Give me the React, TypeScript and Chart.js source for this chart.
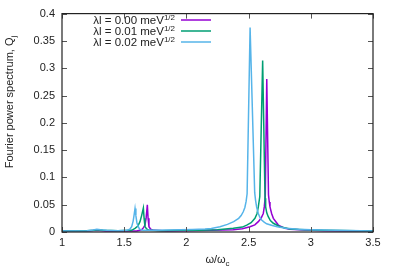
import { useEffect, useRef } from "react";
import { Chart, registerables } from "chart.js";

Chart.register(...registerables);

const xTicks = [1, 1.5, 2, 2.5, 3, 3.5];
const yTicks = [0, 0.05, 0.1, 0.15, 0.2, 0.25, 0.3, 0.35, 0.4];
const seriesValues = ["0.00", "0.01", "0.02"];
const seriesColors = ["#9400d3", "#009e73", "#56b4e9"];

// lambda l = 0.00
const purplePoints: [number, number][] = [
  [1.0, 0.0015], [1.2, 0.002], [1.28, 0.003], [1.35, 0.002], [1.5, 0.002], [1.6, 0.002],
  [1.64, 0.004], [1.655, 0.008], [1.667, 0.0127], [1.676, 0.025], [1.686, 0.05], [1.692, 0.025],
  [1.699, 0.0097], [1.713, 0.005], [1.74, 0.003], [1.85, 0.002], [2.0, 0.0025], [2.2, 0.003],
  [2.377, 0.004], [2.45, 0.006], [2.511, 0.0097], [2.55, 0.013], [2.578, 0.019], [2.6, 0.025],
  [2.618, 0.034], [2.626, 0.046], [2.634, 0.065],
  [2.646, 0.28], [2.66, 0.068], [2.666, 0.055], [2.672, 0.046],
  [2.685, 0.034], [2.699, 0.025], [2.739, 0.0127], [2.793, 0.0067], [2.833, 0.005], [2.95, 0.0035],
  [3.1, 0.0025], [3.5, 0.0015],
];

// lambda l = 0.01
const greenPoints: [number, number][] = [
  [1.0, 0.002], [1.1, 0.002], [1.2, 0.0025], [1.26, 0.003], [1.29, 0.004], [1.33, 0.003],
  [1.45, 0.0025], [1.56, 0.003], [1.587, 0.0067], [1.61, 0.011], [1.627, 0.019], [1.64, 0.03],
  [1.654, 0.044], [1.66, 0.025], [1.667, 0.0097], [1.681, 0.0055], [1.7, 0.003], [1.8, 0.0025],
  [1.95, 0.003], [2.1, 0.003], [2.25, 0.004], [2.377, 0.0067], [2.45, 0.009], [2.485, 0.0127],
  [2.52, 0.017], [2.551, 0.025], [2.568, 0.034], [2.578, 0.046], [2.59, 0.065],
  [2.613, 0.314], [2.632, 0.062],
  [2.637, 0.046], [2.646, 0.035], [2.658, 0.028], [2.675, 0.021], [2.699, 0.016],
  [2.752, 0.0097], [2.833, 0.0055], [2.95, 0.004], [3.1, 0.003], [3.5, 0.002],
];

// lambda l = 0.02
const cyanPoints: [number, number][] = [
  [1.0, 0.002], [1.1, 0.002], [1.2, 0.0025], [1.25, 0.0035], [1.28, 0.005], [1.31, 0.004],
  [1.36, 0.003], [1.45, 0.0025], [1.52, 0.003], [1.545, 0.005], [1.56, 0.0097], [1.572, 0.02],
  [1.58, 0.032], [1.587, 0.043], [1.594, 0.03], [1.602, 0.017], [1.613, 0.0097], [1.625, 0.005],
  [1.65, 0.003], [1.75, 0.003], [1.85, 0.0035], [1.95, 0.004], [2.05, 0.0045], [2.15, 0.0055],
  [2.2, 0.0065], [2.27, 0.0097], [2.33, 0.014], [2.38, 0.019], [2.42, 0.025], [2.44, 0.03],
  [2.457, 0.037], [2.47, 0.045], [2.48, 0.056], [2.488, 0.07],
  [2.512, 0.3745], [2.549, 0.072], [2.556, 0.058],
  [2.565, 0.045], [2.578, 0.034], [2.59, 0.027], [2.605, 0.022], [2.625, 0.018], [2.645, 0.015],
  [2.69, 0.012], [2.73, 0.0095], [2.8, 0.007], [2.9, 0.005], [3.0, 0.004], [3.2, 0.003], [3.5, 0.002],
];

const seriesPoints = [purplePoints, greenPoints, cyanPoints];

const FONT = "Liberation Sans, Arial, sans-serif";

const framePlugin = {
  id: "gnuplotFrame",
  afterDatasetsDraw(chart: any) {
    const { ctx, chartArea } = chart;
    const { left, right, top, bottom } = chartArea;
    const xs = chart.scales.x;
    const ys = chart.scales.y;
    ctx.save();
    ctx.strokeStyle = "#555";
    ctx.lineWidth = 1;
    const tl = 5;
    ctx.beginPath();
    for (const v of xTicks) {
      const px = Math.round(xs.getPixelForValue(v)) + 0.5;
      ctx.moveTo(px, bottom);
      ctx.lineTo(px, bottom - tl);
      ctx.moveTo(px, top);
      ctx.lineTo(px, top + tl);
    }
    for (const v of yTicks) {
      const py = Math.round(ys.getPixelForValue(v)) + 0.5;
      ctx.moveTo(left, py);
      ctx.lineTo(left + tl, py);
      ctx.moveTo(right, py);
      ctx.lineTo(right - tl, py);
    }
    ctx.stroke();
    ctx.strokeStyle = "#222";
    ctx.lineWidth = 1.2;
    ctx.strokeRect(left, top, right - left, bottom - top);
    ctx.restore();
  },
  afterDraw(chart: any) {
    const { ctx, chartArea } = chart;
    ctx.save();
    ctx.fillStyle = "#222";
    ctx.textBaseline = "alphabetic";

    // legend
    const legendRight = 175;
    const lineX0 = 181;
    const lineX1 = 211;
    const rowY = [20, 31, 42];
    for (let i = 0; i < 3; i++) {
      const main = "\u03BBl = " + seriesValues[i] + " meV";
      const sup = "1/2";
      ctx.font = "11.5px " + FONT;
      const wMain = ctx.measureText(main).width;
      ctx.font = "8px " + FONT;
      const wSup = ctx.measureText(sup).width;
      const x0 = legendRight - wSup - wMain;
      ctx.font = "11.5px " + FONT;
      ctx.textAlign = "left";
      ctx.fillText(main, x0, rowY[i] + 4);
      ctx.font = "8px " + FONT;
      ctx.fillText(sup, x0 + wMain, rowY[i] - 0.5);
      ctx.strokeStyle = seriesColors[i];
      ctx.lineWidth = 1.5;
      ctx.beginPath();
      ctx.moveTo(lineX0, rowY[i]);
      ctx.lineTo(lineX1, rowY[i]);
      ctx.stroke();
    }

    // x title
    {
      const cx = (chartArea.left + chartArea.right) / 2;
      const main = "\u03C9/\u03C9";
      ctx.font = "11px " + FONT;
      const w1 = ctx.measureText(main).width;
      ctx.font = "8px " + FONT;
      const w2 = ctx.measureText("c").width;
      const x0 = cx - (w1 + w2) / 2;
      ctx.font = "11px " + FONT;
      ctx.textAlign = "left";
      ctx.fillText(main, x0, 263);
      ctx.font = "8px " + FONT;
      ctx.fillText("c", x0 + w1, 266);
    }

    // y title
    {
      ctx.translate(13, 102);
      ctx.rotate(-Math.PI / 2);
      const main = "Fourier power spectrum, Q";
      ctx.font = "11px " + FONT;
      const w1 = ctx.measureText(main).width;
      ctx.font = "8px " + FONT;
      const w2 = ctx.measureText("j").width;
      const x0 = -(w1 + w2) / 2;
      ctx.font = "11px " + FONT;
      ctx.textAlign = "left";
      ctx.fillText(main, x0, 0);
      ctx.font = "8px " + FONT;
      ctx.fillText("j", x0 + w1, 3);
    }
    ctx.restore();
  },
};

export default function App() {
  const ref = useRef<HTMLCanvasElement | null>(null);
  useEffect(() => {
    if (!ref.current) return;
    const order = [2, 1, 0];
    const chart = new Chart(ref.current, {
      type: "line",
      data: {
        datasets: seriesPoints.map((pts, i) => ({
          label: "\u03BBl = " + seriesValues[i] + " meV1/2",
          data: pts.map(([x, y]) => ({ x, y })),
          borderColor: seriesColors[i],
          backgroundColor: seriesColors[i],
          borderWidth: 1.5,
          pointRadius: 0,
          tension: 0,
          fill: false,
          order: order[i],
        })),
      },
      options: {
        animation: false,
        responsive: false,
        events: [],
        layout: { padding: { top: 12, right: 26, left: 0, bottom: 0 } },
        plugins: { legend: { display: false }, tooltip: { enabled: false }, title: { display: false } },
        scales: {
          x: {
            type: "linear",
            min: 1,
            max: 3.5,
            afterBuildTicks: (s: any) => { s.ticks = xTicks.map((v) => ({ value: v })); },
            afterFit: (s: any) => { s.height = 47; },
            ticks: {
              callback: (v: any) => String(Math.round(Number(v) * 100) / 100),
              color: "#222",
              font: { family: FONT, size: 11 },
              padding: 4,
              maxRotation: 0,
            },
            grid: { display: false, drawTicks: false },
            border: { display: false },
          },
          y: {
            type: "linear",
            min: 0,
            max: 0.4,
            afterBuildTicks: (s: any) => { s.ticks = yTicks.map((v) => ({ value: v })); },
            afterFit: (s: any) => { s.width = 62; },
            ticks: {
              callback: (v: any) => String(Math.round(Number(v) * 100) / 100),
              color: "#222",
              font: { family: FONT, size: 11 },
              padding: 7,
            },
            grid: { display: false, drawTicks: false },
            border: { display: false },
          },
        },
      },
      plugins: [framePlugin],
    });
    return () => chart.destroy();
  }, []);
  return (
    <div style={{ position: "fixed", left: 0, top: 0, width: 399, height: 279, background: "#fff" }}>
      <canvas ref={ref} width={399} height={279} style={{ display: "block" }} />
    </div>
  );
}
